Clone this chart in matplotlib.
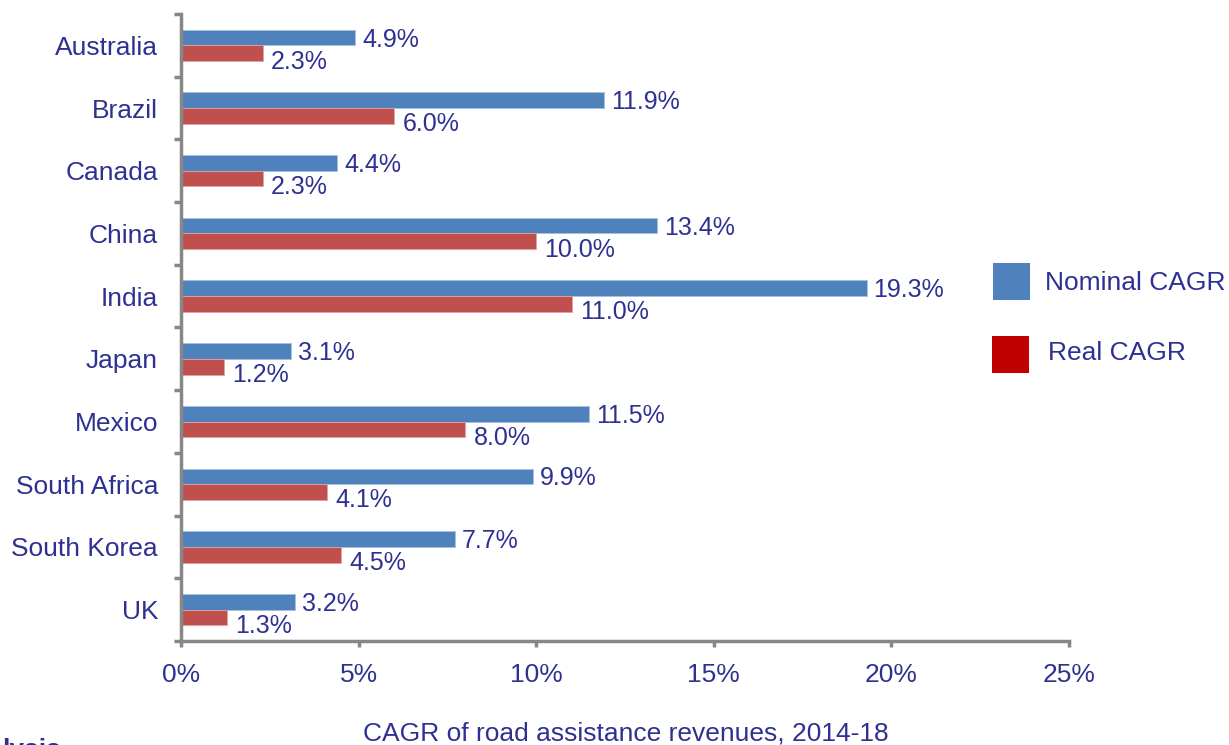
import matplotlib
matplotlib.use("Agg")
import matplotlib.pyplot as plt
import numpy as np
from matplotlib.patches import Rectangle

plt.rcParams['font.family'] = ['Liberation Sans', 'DejaVu Sans']

countries = ["Australia", "Brazil", "Canada", "China", "India", "Japan",
             "Mexico", "South Africa", "South Korea", "UK"]
nominal = [4.9, 11.9, 4.4, 13.4, 19.3, 3.1, 11.5, 9.9, 7.7, 3.2]
real = [2.3, 6.0, 2.3, 10.0, 11.0, 1.2, 8.0, 4.1, 4.5, 1.3]
xticks = [0, 5, 10, 15, 20, 25]
xlabel = "CAGR of road assistance revenues, 2014-18"
legend_labels = ["Nominal CAGR", "Real CAGR"]

NAVY = "#2E3192"
BLUE = "#4F81BD"
RED = "#C0504D"
GRAY = "#878787"
FS = 19
FS_VAL = 18

fig = plt.figure(figsize=(12.29, 7.45), dpi=100)
ax = fig.add_axes([181/1229, 1 - 641/745, (1069-181)/1229, (641-14)/745])

y = np.arange(len(countries))
h = 0.25
ax.barh(y - h/2, nominal, height=h, color=BLUE, edgecolor="#A7C0DE", linewidth=0.6)
ax.barh(y + h/2, real, height=h, color=RED, edgecolor="#E0A3A1", linewidth=0.6)

for yi, v in zip(y, nominal):
    ax.annotate(f"{v:.1f}%", (v, yi - h/2), xytext=(5, -1.5), textcoords="offset points",
                va="center", ha="left", color=NAVY, fontsize=FS_VAL)
for yi, v in zip(y, real):
    ax.annotate(f"{v:.1f}%", (v, yi + h/2), xytext=(6, -6), textcoords="offset points",
                va="center", ha="left", color=NAVY, fontsize=FS_VAL)

ax.set_ylim(len(countries) - 0.5, -0.5)
ax.set_xlim(0, 25)
ax.set_yticks(y)
ax.set_yticklabels(countries)
ax.set_yticks(np.arange(-0.5, len(countries), 1), minor=True)
ax.set_xticks(xticks)
ax.set_xticklabels([f"{t}%" for t in xticks])

ax.tick_params(axis="y", which="major", length=0, pad=16.5, labelsize=FS, labelcolor=NAVY)
ax.tick_params(axis="y", which="minor", length=5, width=2.5, color=GRAY, direction="out")
ax.tick_params(axis="x", which="major", length=4, width=2.5, color=GRAY, direction="out",
               pad=12, labelsize=FS, labelcolor=NAVY)

for s in ["top", "right"]:
    ax.spines[s].set_visible(False)
for s in ["left", "bottom"]:
    ax.spines[s].set_color(GRAY)
    ax.spines[s].set_linewidth(2.5)

fig.text(626/1229, 1 - 733/745, xlabel, ha="center", va="center", color=NAVY, fontsize=FS)

# legend
fig.patches.append(Rectangle((993/1229, 1 - 300/745), 37/1229, 37/745,
                             transform=fig.transFigure, facecolor=BLUE, edgecolor="none"))
fig.patches.append(Rectangle((992/1229, 1 - 373/745), 37/1229, 37/745,
                             transform=fig.transFigure, facecolor="#C00000", edgecolor="none"))
fig.text(1045/1229, 1 - 283/745, legend_labels[0], ha="left", va="center", color=NAVY, fontsize=FS)
fig.text(1048/1229, 1 - 353/745, legend_labels[1], ha="left", va="center", color=NAVY, fontsize=FS)

# clipped footer text
fig.text(2/1229, 1 - 738/745, "lysis", ha="left", va="top", color=NAVY, fontsize=FS,
         fontweight="bold")

fig.savefig("out.png", dpi=100)
